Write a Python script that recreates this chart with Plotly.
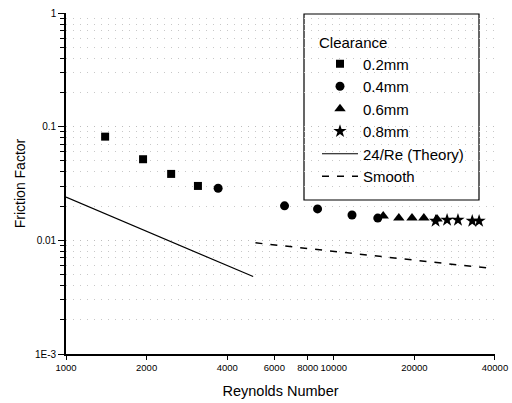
import plotly.graph_objects as go

# ---- data ----
re_02 = [1400, 1940, 2470, 3110]
f_02 = [0.0817, 0.0517, 0.0384, 0.0301]

re_04 = [3700, 6550, 8700, 11700, 14600]
f_04 = [0.0287, 0.0201, 0.0189, 0.0167, 0.0157]

re_06 = [15300, 17500, 19600, 21700, 24300]
f_06 = [0.0164, 0.0157, 0.0157, 0.0157, 0.0154]

re_08 = [24000, 26500, 29100, 32900, 34900]
f_08 = [0.0148, 0.0151, 0.0151, 0.0148, 0.0148]

re_theory = [1000, 5000]
f_theory = [0.024, 0.0048]

re_smooth = [5100, 37700]
f_smooth = [0.0095, 0.0057]

x_tickvals = [1000, 2000, 4000, 6000, 8000, 10000, 20000, 40000]
x_ticktext = ["1000", "2000", "4000", "6000", "8000", "10000", "20000", "40000"]
y_tickvals = [0.001, 0.01, 0.1, 1]
y_ticktext = ["1E-3", "0.01", "0.1", "1"]

FONT = "Liberation Sans, Arial, sans-serif"

fig = go.Figure()
fig.add_trace(go.Scatter(x=re_02, y=f_02, mode="markers", name="0.2mm",
                         marker=dict(symbol="square", size=8, color="black")))
fig.add_trace(go.Scatter(x=re_04, y=f_04, mode="markers", name="0.4mm",
                         marker=dict(symbol="circle", size=9, color="black")))
fig.add_trace(go.Scatter(x=re_06, y=f_06, mode="markers", name="0.6mm",
                         marker=dict(symbol="triangle-up", size=10, color="black")))
fig.add_trace(go.Scatter(x=re_08, y=f_08, mode="markers", name="0.8mm",
                         marker=dict(symbol="star", size=10, color="black")))
fig.add_trace(go.Scatter(x=re_theory, y=f_theory, mode="lines", name="24/Re (Theory)",
                         line=dict(color="black", width=1.2)))
fig.add_trace(go.Scatter(x=re_smooth, y=f_smooth, mode="lines", name="Smooth",
                         line=dict(color="black", width=1.5, dash="7px,8px")))

W, H = 512, 403
L, R, T, B = 66, 17, 13, 49
pw, ph = W - L - R, H - T - B

def px_x(p):
    return (p - L) / pw

def px_y(p):
    return (H - B - p) / ph

# legend frame
fig.add_shape(type="rect", xref="paper", yref="paper",
              x0=px_x(304), x1=px_x(479), y0=px_y(200), y1=px_y(14),
              line=dict(color="black", width=1.2), fillcolor="white", layer="below")

fig.update_layout(
    width=W, height=H,
    margin=dict(l=L, r=R, t=T, b=B, autoexpand=False),
    paper_bgcolor="white", plot_bgcolor="white",
    font=dict(family=FONT, color="black"),
    showlegend=True,
    legend=dict(
        x=px_x(317), y=px_y(28), xanchor="left", yanchor="top",
        bgcolor="rgba(0,0,0,0)", borderwidth=0,
        title=dict(text="Clearance", font=dict(size=15, family=FONT)),
        font=dict(size=15, family=FONT),
        itemwidth=36,
        tracegroupgap=0,
    ),
)

fig.update_xaxes(
    type="log", range=[3, 4.6022],
    tickvals=x_tickvals, ticktext=x_ticktext, tickangle=0,
    tickfont=dict(size=9.5, family=FONT),
    ticks="outside", ticklen=4, tickwidth=1.2, tickcolor="black",
    showline=True, linecolor="black", linewidth=1.6,
    showgrid=False, zeroline=False, automargin=False,
    title=dict(text="Reynolds Number", font=dict(size=14.5, family=FONT), standoff=14),
)
fig.update_yaxes(
    type="log", range=[-3, 0],
    tickvals=y_tickvals, ticktext=y_ticktext,
    tickfont=dict(size=10, family=FONT),
    ticks="outside", ticklen=6, tickwidth=1.2, tickcolor="black",
    showline=True, linecolor="black", linewidth=1.6,
    showgrid=True, gridcolor="#bdbdbd", griddash="1px,6px", gridwidth=1,
    minor=dict(dtick="D1", ticks="outside", ticklen=4, tickwidth=1, tickcolor="black",
               showgrid=True, gridcolor="#c8c8c8", griddash="1px,6px", gridwidth=1),
    zeroline=False, automargin=False,
    title=dict(text="Friction Factor", font=dict(size=14, family=FONT), standoff=6),
)

fig.write_html("out.html")
